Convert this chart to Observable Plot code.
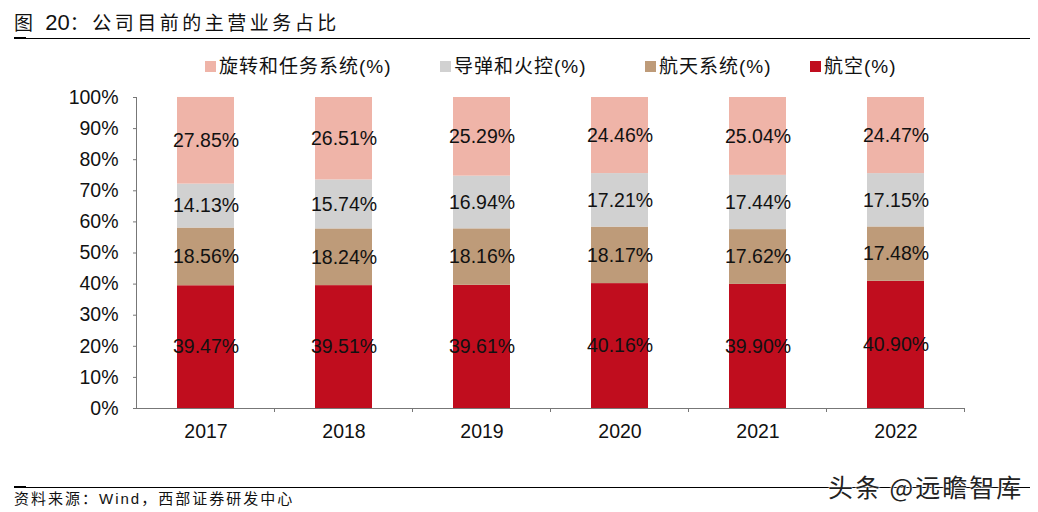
<!DOCTYPE html>
<html><head><meta charset="utf-8">
<script src="https://cdn.jsdelivr.net/npm/d3@7"></script>
<script src="https://cdn.jsdelivr.net/npm/@observablehq/plot@0.6"></script>
<style>
html,body{margin:0;padding:0;background:#fff;}
#wrap{position:relative;width:1038px;height:512px;overflow:hidden;font-family:"Liberation Sans",Arial,"Noto Sans CJK SC",sans-serif;}
#chart{position:absolute;left:0;top:0;}
.abs{position:absolute;white-space:nowrap;line-height:1;}
.title{left:14px;top:12px;font-size:19px;color:#111;font-family:"Liberation Sans","Noto Sans CJK SC",sans-serif;}
.title .cj{letter-spacing:3.5px;}
.title .num{font-size:22px;}
.hline{position:absolute;left:14px;width:1016px;height:1px;background:#000;}
.leg{top:57px;font-size:19px;color:#111;display:flex;align-items:center;letter-spacing:1px;}
.sw{display:inline-block;width:11px;height:11px;margin-right:3px;}
.src{left:14px;top:491px;font-size:15px;color:#111;letter-spacing:2px;}
.wm{left:828px;top:474px;font-size:25px;color:#222;letter-spacing:2px;text-shadow:0 0 2px #fff,0 0 2px #fff,0 0 1px #fff;font-family:"Noto Sans CJK SC",sans-serif;}
</style></head>
<body><div id="wrap"><div id="chart"></div></div>
<script>
const years = ["2017","2018","2019","2020","2021","2022"];
const seriesNames = ["航空(%)","航天系统(%)","导弹和火控(%)","旋转和任务系统(%)"];
const aviation = [39.47,39.51,39.61,40.16,39.90,40.90];
const spaceSys = [18.56,18.24,18.16,18.17,17.62,17.48];
const missile  = [14.13,15.74,16.94,17.21,17.44,17.15];
const rotary   = [27.85,26.51,25.29,24.46,25.04,24.47];
const colors = ["#C00D1E","#BE9B79","#D1D1D1","#EFB4A8"];
const yTicks = [0,10,20,30,40,50,60,70,80,90,100];
const legendOrder = ["旋转和任务系统(%)","导弹和火控(%)","航天系统(%)","航空(%)"];
const legendX = [205,440,645,810];

const seriesVals = [aviation, spaceSys, missile, rotary];
const data = [];
seriesNames.forEach((s,i)=>years.forEach((y,j)=>data.push({year:y, series:s, value:seriesVals[i][j]})));

const plot = Plot.plot({
  width:1038, height:512,
  marginLeft:137, marginRight:73, marginTop:97, marginBottom:104,
  style:{fontFamily:"'Liberation Sans', Arial, sans-serif", background:"transparent"},
  x:{domain:years, paddingInner:0.585, paddingOuter:0.2925, axis:null},
  y:{domain:[0,100], axis:null},
  color:{domain:seriesNames, range:colors},
  marks:[
    Plot.barY(data, Plot.stackY({x:"year", y:"value", fill:"series", order:seriesNames})),
    Plot.text(data, Plot.stackY({x:"year", y:"value", z:"series", order:seriesNames, text:d=>d.value.toFixed(2)+"%", fill:"#111", fontSize:19.5})),
    Plot.axisY({ticks:yTicks, tickFormat:d=>d+"%", tickSize:4, tickPadding:15, fontSize:19.5, stroke:"#777", fill:"#111", label:null}),
    Plot.ruleY([0], {stroke:"#777"}),
    Plot.axisX({tickSize:0, tickPadding:16, fontSize:19.5, fill:"#111", label:null})
  ]
});
document.getElementById("chart").appendChild(plot);

// y axis line and x band boundary ticks, using the plot's scales
const xs = plot.scale("x"), ys = plot.scale("y");
const svg = d3.select(plot);
const step = xs.step;
const x0 = xs.apply(years[0]) - (step - xs.bandwidth)/2;
svg.append("line").attr("x1",x0).attr("x2",x0).attr("y1",ys.apply(100)).attr("y2",ys.apply(0)).attr("stroke","#777");
years.forEach((y,i)=>{ if(i===0) return; const bx = xs.apply(y) - (step - xs.bandwidth)/2;
  svg.append("line").attr("x1",bx).attr("x2",bx).attr("y1",ys.apply(0)).attr("y2",ys.apply(0)+4).attr("stroke","#777");});
const xe = xs.apply(years[years.length-1]) + xs.bandwidth + (step - xs.bandwidth)/2;
svg.append("line").attr("x1",xe).attr("x2",xe).attr("y1",ys.apply(0)).attr("y2",ys.apply(0)+4).attr("stroke","#777");

const wrap = document.getElementById("wrap");
function add(cls, html, style){ const d=document.createElement("div"); d.className=cls; d.innerHTML=html; if(style) d.style.cssText=style; wrap.appendChild(d); return d; }
add("abs title",'<span class="cj">图 </span><span class="num">20</span><span class="cj">：公司目前的主营业务占比</span>');
add("hline","", "top:38px;");
add("hline","", "top:37px;width:12px;height:2px;");
legendOrder.forEach((s,i)=>{ const c = colors[seriesNames.indexOf(s)];
  add("abs leg", `<span class="sw" style="background:${c}"></span><span>${s}</span>`, `left:${legendX[i]}px;`); });
add("hline","", "top:487px;");
add("hline","", "top:486px;width:12px;height:2px;");
add("abs src","资料来源：Wind，西部证券研发中心");
add("abs wm","头条 @远瞻智库");
</script></body></html>
